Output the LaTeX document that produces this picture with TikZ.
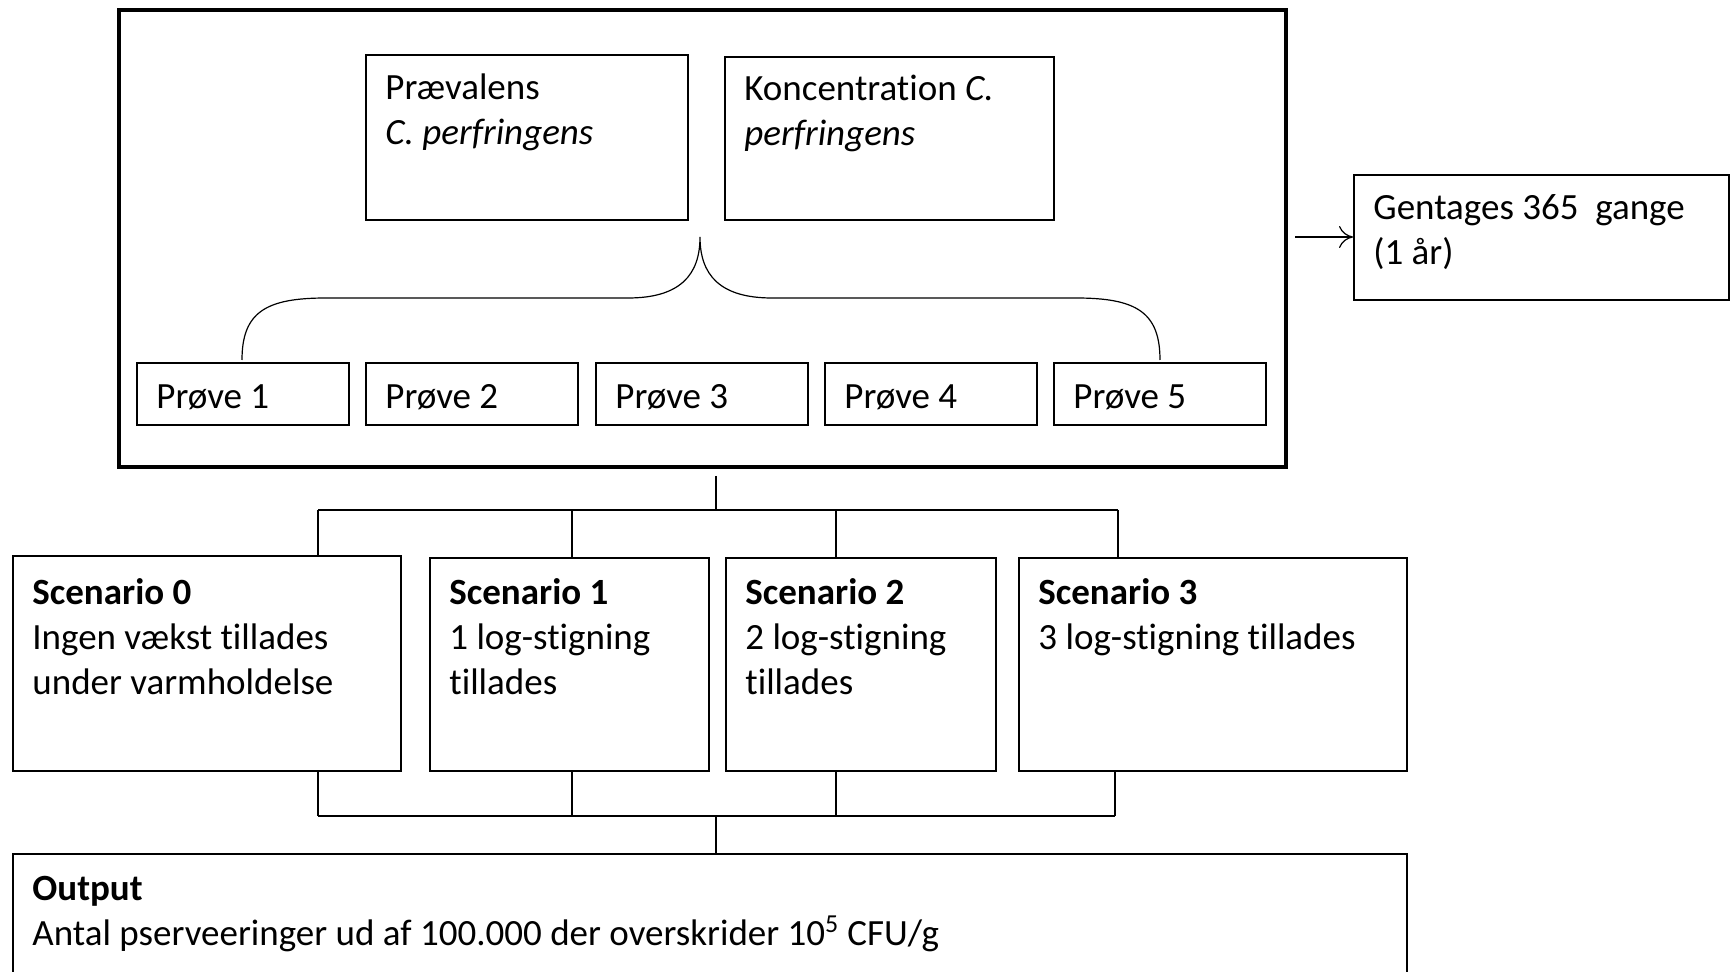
\documentclass[tikz,border=0pt]{standalone}
\usepackage{fontspec}
\setmainfont{Carlito}[Ligatures={NoCommon,NoRare,NoContextual}]
\usetikzlibrary{arrows.meta}
\tikzset{
  box/.style={draw, line width=0.8pt, inner sep=0pt, anchor=north west, rectangle},
  bigbox/.style={draw, line width=2.2pt, inner sep=0pt, anchor=north west, rectangle},
  txt/.style={inner sep=0pt, anchor=base west, font=\fontsize{18.5}{22.5}\selectfont},
  conn/.style={line width=0.6pt},
}
\begin{document}
\begin{tikzpicture}[x=0.5pt,y=-0.5pt]
\useasboundingbox (0,0) rectangle (1731,972);
\clip (0,0) rectangle (1731,972);
% outer box
\node[bigbox, minimum width=583.5pt, minimum height=228.5pt] (outer) at (117,8) {};
% top boxes
\node[box, minimum width=161pt, minimum height=82.5pt] (prev) at (365,54) {};
\node[box, minimum width=164.5pt, minimum height=81.5pt] (konc) at (724,56) {};
\node[txt] (prevT) at (385,100) {\vtop{\hbox{Prævalens}\hbox{\itshape C. perfringens}}};
\node[txt] (koncT) at (744,101) {\vtop{\hbox{Koncentration \textit{C.}}\hbox{\itshape perfringens}}};
% samples
\foreach \i/\x in {1/136,2/365,3/595,4/824,5/1053}{
  \node[box, minimum width=106pt, minimum height=31pt] (p\i) at (\x,362) {};
  \node[txt] (p\i T) at ([xshift=10pt]p\i.north west |- 0,409) {Prøve \i};
}
% brace
\coordinate (bl) at (242,360);
\coordinate (br) at (1160,360);
\coordinate (btip) at (700,237);
\draw[conn] (bl) .. controls (242,312) and (266,298) .. (326,298) -- (628,298)
  .. controls (680,298) and (700,275) .. (btip)
  .. controls (700,275) and (720,298) .. (772,298) -- (1076,298)
  .. controls (1136,298) and (1160,312) .. (br);
% repeat box
\node[box, minimum width=187.5pt, minimum height=62.5pt] (gent) at (1353,174) {};
\node[txt] (gentT) at (1373,220) {\vtop{\hbox{Gentages 365\ \ gange}\hbox{(1 år)}}};
\coordinate (astart) at (1295,237);
\draw[conn, -{To[length=7pt,width=11pt]}] (astart) -- (astart -| gent.west);
% scenarios
\node[box, minimum width=194pt, minimum height=107.5pt] (sc0) at (12,555) {};
\node[box, minimum width=139.5pt, minimum height=106.5pt] (sc1) at (429,557) {};
\node[box, minimum width=135pt, minimum height=106.5pt] (sc2) at (725,557) {};
\node[box, minimum width=194pt, minimum height=106.5pt] (sc3) at (1018,557) {};
\node[txt] (sc0T) at (32,605) {\vtop{\hbox{\bfseries Scenario 0}\hbox{Ingen vækst tillades}\hbox{under varmholdelse}}};
\node[txt] (sc1T) at (449,605) {\vtop{\hbox{\bfseries Scenario 1}\hbox{1 log-stigning}\hbox{tillades}}};
\node[txt] (sc2T) at (745,605) {\vtop{\hbox{\bfseries Scenario 2}\hbox{2 log-stigning}\hbox{tillades}}};
\node[txt] (sc3T) at (1038,605) {\vtop{\hbox{\bfseries Scenario 3}\hbox{3 log-stigning tillades}}};
% output
\node[box, minimum width=697pt, minimum height=80pt] (out) at (12,853) {};
\node[txt] (outT) at (32,900) {\vtop{\hbox{\bfseries Output}\hbox{Antal pserveeringer ud af 100.000 der overskrider 10\textsuperscript{5} CFU/g}}};
% upper connectors
\coordinate (t1) at (716,476);
\coordinate (hl) at (318,510);
\coordinate (hr) at (1118,510);
\coordinate (d1) at (572,510);
\coordinate (d2) at (836,510);
\draw[conn] (t1) -- (t1 |- hl);
\draw[conn] (hl) -- (hr);
\draw[conn] (hl) -- (hl |- sc0.north);
\draw[conn] (d1) -- (d1 |- sc1.north);
\draw[conn] (d2) -- (d2 |- sc2.north);
\draw[conn] (hr) -- (hr |- sc3.north);
% lower connectors
\coordinate (ll) at (318,816);
\coordinate (lr) at (1115,816);
\coordinate (e1) at (572,816);
\coordinate (e2) at (836,816);
\coordinate (lm) at (716,816);
\draw[conn] (ll |- sc0.south) -- (ll);
\draw[conn] (e1 |- sc1.south) -- (e1);
\draw[conn] (e2 |- sc2.south) -- (e2);
\draw[conn] (lr |- sc3.south) -- (lr);
\draw[conn] (ll) -- (lr);
\draw[conn] (lm) -- (lm |- out.north);
\end{tikzpicture}
\end{document}
